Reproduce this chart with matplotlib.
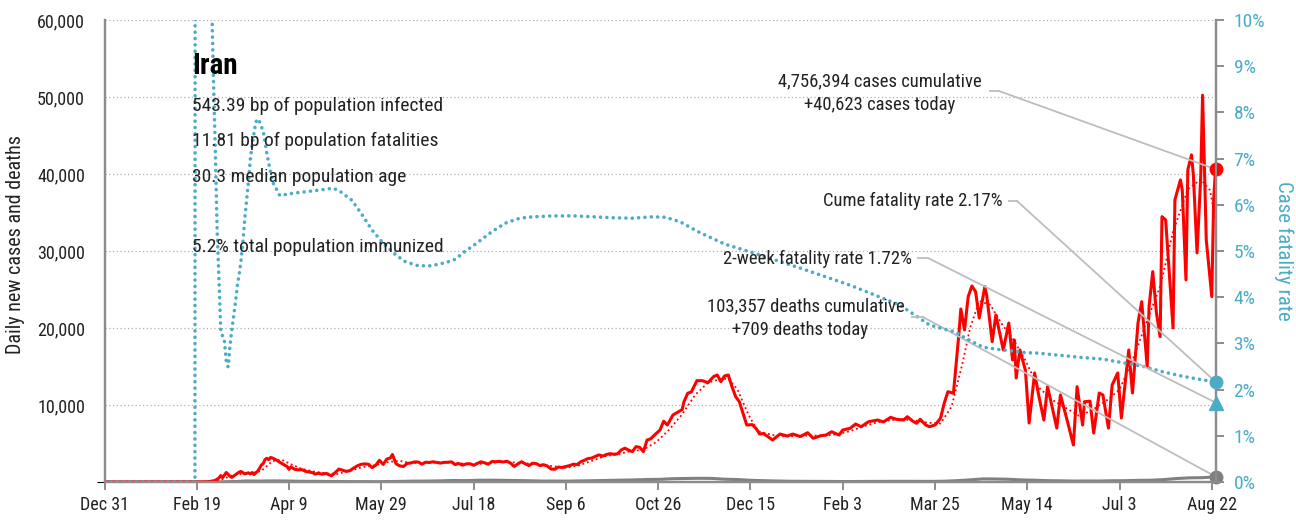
import matplotlib
matplotlib.use("Agg")
import matplotlib.pyplot as plt
import numpy as np
import pandas as pd
from matplotlib.lines import Line2D

plt.rcParams["font.family"] = ["Roboto Condensed", "Liberation Sans Narrow", "DejaVu Sans"]
plt.rcParams["font.stretch"] = "condensed"

RED = "#ff0000"
TEAL = "#4bacc6"
GREY = "#808080"
LEADER = "#bdbdbd"
INK = "#222222"

# daily new cases
case_dates = [
    "2019-12-31", "2020-02-18", "2020-02-19", "2020-02-22", "2020-02-25", "2020-02-27",
    "2020-02-29", "2020-03-02", "2020-03-03", "2020-03-04", "2020-03-06", "2020-03-08",
    "2020-03-09", "2020-03-11", "2020-03-13", "2020-03-14", "2020-03-16", "2020-03-18",
    "2020-03-19", "2020-03-20", "2020-03-21", "2020-03-23", "2020-03-24", "2020-03-25",
    "2020-03-26", "2020-03-27", "2020-03-28", "2020-03-29", "2020-03-30", "2020-03-31",
    "2020-04-02", "2020-04-04", "2020-04-06", "2020-04-08", "2020-04-09", "2020-04-10",
    "2020-04-12", "2020-04-14", "2020-04-16", "2020-04-18", "2020-04-20", "2020-04-22",
    "2020-04-23", "2020-04-25", "2020-04-27", "2020-04-29", "2020-05-02", "2020-05-04",
    "2020-05-06", "2020-05-08", "2020-05-10", "2020-05-12", "2020-05-14", "2020-05-16",
    "2020-05-18", "2020-05-20", "2020-05-22", "2020-05-24", "2020-05-26", "2020-05-28",
    "2020-05-30", "2020-06-01", "2020-06-03", "2020-06-04", "2020-06-06", "2020-06-08",
    "2020-06-10", "2020-06-12", "2020-06-14", "2020-06-16", "2020-06-18", "2020-06-20",
    "2020-06-22", "2020-06-24", "2020-06-26", "2020-06-28", "2020-06-30", "2020-07-02",
    "2020-07-04", "2020-07-06", "2020-07-08", "2020-07-10", "2020-07-12", "2020-07-14",
    "2020-07-16", "2020-07-18", "2020-07-20", "2020-07-22", "2020-07-24", "2020-07-26",
    "2020-07-28", "2020-07-30", "2020-08-01", "2020-08-03", "2020-08-05", "2020-08-07",
    "2020-08-09", "2020-08-11", "2020-08-13", "2020-08-15", "2020-08-17", "2020-08-19",
    "2020-08-21", "2020-08-23", "2020-08-25", "2020-08-27", "2020-08-29", "2020-08-31",
    "2020-09-02", "2020-09-04", "2020-09-06", "2020-09-08", "2020-09-10", "2020-09-12",
    "2020-09-14", "2020-09-16", "2020-09-18", "2020-09-20", "2020-09-22", "2020-09-24",
    "2020-09-26", "2020-09-28", "2020-09-30", "2020-10-02", "2020-10-04", "2020-10-06",
    "2020-10-08", "2020-10-10", "2020-10-12", "2020-10-14", "2020-10-16", "2020-10-18",
    "2020-10-20", "2020-10-22", "2020-10-24", "2020-10-27", "2020-10-29", "2020-10-31",
    "2020-11-03", "2020-11-06", "2020-11-08", "2020-11-09", "2020-11-11", "2020-11-13",
    "2020-11-16", "2020-11-19", "2020-11-22", "2020-11-25", "2020-11-27", "2020-11-29",
    "2020-12-01", "2020-12-03", "2020-12-05", "2020-12-07", "2020-12-09", "2020-12-11",
    "2020-12-13", "2020-12-16", "2020-12-18", "2020-12-20", "2020-12-22", "2020-12-24",
    "2020-12-27", "2020-12-31", "2021-01-04", "2021-01-07", "2021-01-11", "2021-01-15",
    "2021-01-18", "2021-01-22", "2021-01-25", "2021-01-28", "2021-02-01", "2021-02-03",
    "2021-02-07", "2021-02-10", "2021-02-13", "2021-02-17", "2021-02-22", "2021-02-25",
    "2021-03-01", "2021-03-04", "2021-03-08", "2021-03-10", "2021-03-13", "2021-03-15",
    "2021-03-17", "2021-03-20", "2021-03-22", "2021-03-25", "2021-03-28", "2021-03-30",
    "2021-04-01", "2021-04-04", "2021-04-07", "2021-04-08", "2021-04-10", "2021-04-12",
    "2021-04-14", "2021-04-16", "2021-04-18", "2021-04-21", "2021-04-22", "2021-04-25",
    "2021-04-27", "2021-05-01", "2021-05-04", "2021-05-06", "2021-05-07", "2021-05-08",
    "2021-05-10", "2021-05-13", "2021-05-15", "2021-05-18", "2021-05-20", "2021-05-23",
    "2021-05-25", "2021-05-27", "2021-05-30", "2021-06-01", "2021-06-03", "2021-06-05",
    "2021-06-08", "2021-06-10", "2021-06-13", "2021-06-14", "2021-06-17", "2021-06-19",
    "2021-06-22", "2021-06-24", "2021-06-27", "2021-06-29", "2021-07-02", "2021-07-04",
    "2021-07-08", "2021-07-10", "2021-07-13", "2021-07-15", "2021-07-18", "2021-07-19",
    "2021-07-21", "2021-07-23", "2021-07-25", "2021-07-26", "2021-07-28", "2021-08-01",
    "2021-08-02", "2021-08-05", "2021-08-06", "2021-08-08", "2021-08-09", "2021-08-11",
    "2021-08-12", "2021-08-14", "2021-08-16", "2021-08-17", "2021-08-19", "2021-08-22",
    "2021-08-23", "2021-08-24",
]
new_cases = [
    0, 0, 2, 10, 34, 106,
    205, 523, 835, 586, 1234, 743,
    595, 958, 1289, 1365, 1053, 1192,
    1046, 1237, 966, 1411, 1762, 2206,
    2389, 2926, 3076, 2901, 3186, 3110,
    2875, 2560, 2274, 1997, 1634, 1972,
    1657, 1574, 1606, 1374, 1294, 1194,
    1030, 1134, 1006, 1112, 802, 1223,
    1680, 1529, 1383, 1481, 1808, 2102,
    2294, 2346, 2311, 1869, 2180, 2819,
    2282, 2979, 3134, 3574, 2364, 2095,
    2011, 2410, 2472, 2612, 2596, 2322,
    2573, 2531, 2628, 2536, 2457, 2549,
    2560, 2613, 2262, 2397, 2186, 2349,
    2379, 2166, 2414, 2625, 2489, 2316,
    2667, 2636, 2685, 2598, 2697, 2450,
    2020, 2345, 2634, 2358, 2133, 2444,
    2386, 2125, 2243, 2060, 1682, 1656,
    1943, 1888, 2016, 2125, 2313, 2262,
    2615, 2818, 3049, 3097, 3341, 3521,
    3362, 3570, 3677, 3600, 3653, 4160,
    4392, 4142, 3940, 4590, 4500, 3940,
    5450, 5616, 6100, 6750, 7900, 7400,
    8700, 9130, 9400, 10430, 11520, 11700,
    13160, 13160, 12900, 13680, 13900, 13030,
    13770, 13900, 12380, 11080, 10430, 8920,
    7400, 7450, 6970, 6230, 6300, 5970,
    5450, 6230, 5970, 6230, 5900, 6400,
    5680, 6000, 6100, 6530, 6100, 6750,
    6970, 7530, 7180, 7830, 8050, 7800,
    8400, 8150, 8050, 8480, 7900, 7620,
    8140, 7400, 7180, 7400, 8270, 10220,
    11730, 11520, 19350, 22470, 19750, 24070,
    25460, 24720, 21300, 25370, 24290, 18230,
    21690, 17150, 20650, 15850, 18450, 13500,
    17150, 14500, 7660, 14160, 11500, 8050,
    12380, 10260, 7000, 11300, 9500, 7660,
    4800, 12380, 7400, 10430, 10500, 6360,
    11560, 11300, 7000, 12600, 14160, 8310,
    17150, 11560, 20650, 23420, 14980, 22770,
    27320, 21950, 18870, 34460, 34030, 20000,
    36630, 39230, 37900, 26240, 40530, 42480,
    39900, 29750, 39660, 50228, 31430, 24070,
    36630, 40623,
]

# 7-day average of new cases
avg_dates = [
    "2019-12-31", "2020-02-20", "2020-02-27", "2020-03-03", "2020-03-08", "2020-03-14",
    "2020-03-20", "2020-03-25", "2020-03-31", "2020-04-05", "2020-04-10", "2020-04-16",
    "2020-04-22", "2020-04-29", "2020-05-05", "2020-05-12", "2020-05-19", "2020-05-26",
    "2020-06-02", "2020-06-08", "2020-06-14", "2020-06-21", "2020-06-28", "2020-07-05",
    "2020-07-12", "2020-07-19", "2020-07-26", "2020-08-02", "2020-08-09", "2020-08-16",
    "2020-08-23", "2020-08-30", "2020-09-06", "2020-09-13", "2020-09-20", "2020-09-27",
    "2020-10-04", "2020-10-11", "2020-10-18", "2020-10-25", "2020-11-01", "2020-11-08",
    "2020-11-15", "2020-11-22", "2020-11-29", "2020-12-03", "2020-12-08", "2020-12-14",
    "2020-12-19", "2020-12-27", "2021-01-03", "2021-01-10", "2021-01-17", "2021-01-24",
    "2021-01-31", "2021-02-07", "2021-02-14", "2021-02-21", "2021-02-28", "2021-03-07",
    "2021-03-14", "2021-03-21", "2021-03-28", "2021-04-03", "2021-04-09", "2021-04-13",
    "2021-04-18", "2021-04-24", "2021-04-30", "2021-05-07", "2021-05-13", "2021-05-20",
    "2021-05-28", "2021-06-04", "2021-06-11", "2021-06-18", "2021-06-26", "2021-07-03",
    "2021-07-10", "2021-07-18", "2021-07-25", "2021-08-01", "2021-08-09", "2021-08-16",
    "2021-08-21", "2021-08-24",
]
avg_cases = [
    0, 0, 40, 300, 750, 1050,
    1150, 1450, 2700, 2900, 2300, 1700,
    1380, 1120, 1050, 1450, 1950, 2200,
    2600, 2750, 2450, 2500, 2550, 2550,
    2400, 2300, 2450, 2600, 2550, 2400,
    2300, 2050, 1850, 2150, 2750, 3350,
    3600, 4000, 4200, 5200, 6800, 8800,
    11300, 12900, 13400, 13400, 12000, 8700,
    6600, 6100, 5900, 6000, 6050, 6000,
    6200, 6600, 7200, 7700, 8000, 8150,
    8000, 7700, 7600, 9800, 15500, 20000,
    23500, 23000, 20600, 18300, 15800, 12300,
    10600, 9600, 8600, 9300, 10600, 12000,
    15800, 21000, 25400, 32500, 38000, 39300,
    37900, 34000,
]

# daily deaths
death_dates = [
    "2019-12-31", "2020-02-18", "2020-02-19", "2020-03-01", "2020-03-10", "2020-03-17",
    "2020-03-24", "2020-03-31", "2020-04-07", "2020-04-14", "2020-04-21", "2020-04-28",
    "2020-05-05", "2020-05-12", "2020-05-19", "2020-05-26", "2020-06-02", "2020-06-09",
    "2020-06-16", "2020-06-23", "2020-06-30", "2020-07-07", "2020-07-14", "2020-07-21",
    "2020-07-28", "2020-08-04", "2020-08-11", "2020-08-18", "2020-08-25", "2020-09-01",
    "2020-09-08", "2020-09-15", "2020-09-22", "2020-09-29", "2020-10-06", "2020-10-13",
    "2020-10-20", "2020-10-27", "2020-11-03", "2020-11-10", "2020-11-17", "2020-11-24",
    "2020-12-01", "2020-12-08", "2020-12-15", "2020-12-22", "2020-12-29", "2021-01-05",
    "2021-01-12", "2021-01-19", "2021-01-26", "2021-02-02", "2021-02-09", "2021-02-16",
    "2021-02-23", "2021-03-02", "2021-03-09", "2021-03-16", "2021-03-23", "2021-03-30",
    "2021-04-06", "2021-04-13", "2021-04-20", "2021-04-27", "2021-05-04", "2021-05-11",
    "2021-05-18", "2021-05-25", "2021-06-01", "2021-06-08", "2021-06-15", "2021-06-22",
    "2021-06-29", "2021-07-06", "2021-07-13", "2021-07-20", "2021-07-27", "2021-08-03",
    "2021-08-10", "2021-08-17", "2021-08-20", "2021-08-24",
]
new_deaths = [
    0, 0, 2, 12, 54, 135,
    122, 141, 133, 98, 88, 80,
    63, 48, 51, 34, 64, 81,
    115, 121, 147, 200, 179, 229,
    235, 212, 189, 159, 119, 121,
    114, 144, 175, 207, 239, 272,
    322, 346, 431, 457, 482, 469,
    362, 321, 221, 175, 131, 98,
    89, 80, 75, 62, 64, 76,
    79, 87, 88, 84, 80, 100,
    174, 278, 405, 389, 356, 270,
    234, 174, 155, 120, 134, 127,
    160, 170, 213, 229, 315, 453,
    542, 564, 610, 709,
]

# cumulative case fatality rate, percent
cfr_dates = [
    "2019-12-31", "2020-02-18", "2020-02-19", "2020-02-20", "2020-02-21", "2020-02-23",
    "2020-02-25", "2020-02-26", "2020-02-27", "2020-02-28", "2020-02-29", "2020-03-01",
    "2020-03-02", "2020-03-03", "2020-03-04", "2020-03-05", "2020-03-06", "2020-03-07",
    "2020-03-08", "2020-03-09", "2020-03-10", "2020-03-11", "2020-03-12", "2020-03-13",
    "2020-03-14", "2020-03-15", "2020-03-16", "2020-03-17", "2020-03-18", "2020-03-19",
    "2020-03-20", "2020-03-21", "2020-03-22", "2020-03-23", "2020-03-24", "2020-03-25",
    "2020-03-26", "2020-03-27", "2020-03-28", "2020-03-29", "2020-03-31", "2020-04-04",
    "2020-04-11", "2020-04-26", "2020-05-03", "2020-05-07", "2020-05-13", "2020-05-18",
    "2020-05-24", "2020-05-30", "2020-06-06", "2020-06-11", "2020-06-18", "2020-06-25",
    "2020-07-03", "2020-07-08", "2020-07-13", "2020-07-20", "2020-07-28", "2020-08-04",
    "2020-08-12", "2020-08-19", "2020-08-30", "2020-09-10", "2020-09-21", "2020-10-01",
    "2020-10-12", "2020-10-23", "2020-10-30", "2020-11-07", "2020-11-17", "2020-12-01",
    "2020-12-15", "2021-01-11", "2021-02-07", "2021-03-06", "2021-03-22", "2021-03-28",
    "2021-04-05", "2021-04-09", "2021-04-14", "2021-04-20", "2021-04-28", "2021-05-05",
    "2021-05-13", "2021-05-20", "2021-05-27", "2021-06-04", "2021-06-11", "2021-06-24",
    "2021-07-05", "2021-07-16", "2021-07-26", "2021-08-06", "2021-08-17", "2021-08-24",
]
cfr_pct = [
    0, 0, 100, 40, 22, 18.6,
    16.8, 13.7, 10.6, 8.76, 7.25, 5.5,
    4.4, 3.3, 3.15, 3.05, 2.6, 2.49,
    2.95, 3.3, 3.6, 3.9, 4.26, 4.5,
    4.8, 5.2, 5.7, 6.1, 6.5, 6.98,
    7.3, 7.55, 7.79, 7.86, 7.8, 7.69,
    7.6, 7.35, 7.1, 6.9, 6.5, 6.2,
    6.25, 6.32, 6.36, 6.28, 6.1, 5.82,
    5.45, 5.17, 4.91, 4.77, 4.68, 4.68,
    4.75, 4.82, 4.98, 5.18, 5.42, 5.6,
    5.71, 5.74, 5.76, 5.76, 5.74, 5.72,
    5.71, 5.74, 5.73, 5.63, 5.41, 5.15,
    4.98, 4.63, 4.26, 3.83, 3.4, 3.33,
    3.25, 3.15, 3.04, 2.92, 2.87, 2.84,
    2.8, 2.79, 2.76, 2.73, 2.7, 2.66,
    2.58, 2.5, 2.39, 2.29, 2.21, 2.17,
]

two_week_cfr_pct = 1.72
cume_cases = 4756394
cume_deaths = 103357

tick_labels = ["Dec 31", "Feb 19", "Apr 9", "May 29", "Jul 18", "Sep 6", "Oct 26",
               "Dec 15", "Feb 3", "Mar 25", "May 14", "Jul 3", "Aug 22"]

info_lines = [
    "543.39 bp of population infected",
    "11.81 bp of population fatalities",
    "30.3 median population age",
    "",
    "5.2% total population immunized",
]

case_dates = pd.to_datetime(case_dates)
avg_dates = pd.to_datetime(avg_dates)
death_dates = pd.to_datetime(death_dates)
cfr_dates = pd.to_datetime(cfr_dates)
start, end = case_dates[0], case_dates[-1]

W, H = 1296, 522
fig = plt.figure(figsize=(W / 100, H / 100), dpi=100)
ax = fig.add_axes([104.5 / W, 40 / H, 1111 / W, 462 / H])
ax2 = ax.twinx()

# cases and deaths on the left scale
ax.plot(case_dates, new_cases, color=RED, lw=2.2, solid_joinstyle="round", zorder=3)
ax.plot(avg_dates, avg_cases, color=RED, lw=1.3, linestyle=(0, (1, 1.6)), zorder=3)
ax.plot(death_dates, new_deaths, color=GREY, lw=2.2, zorder=2)

ax.set_xlim(start, end)
ax.set_ylim(0, 60000)
ax.set_yticks(np.arange(0, 60001, 10000))
ax.set_yticklabels([""] + [f"{v:,}" for v in range(10000, 60001, 10000)])
ax.yaxis.grid(True, linestyle=(0, (1, 2)), color="#b0b0b0", lw=0.9)
ax.set_axisbelow(True)

ticks = [start + pd.Timedelta(days=50 * i) for i in range(len(tick_labels))]
ax.set_xticks(ticks)
ax.set_xticklabels(tick_labels)

# fatality rate on the right scale
ax2.plot(cfr_dates, cfr_pct, color=TEAL, lw=2.6, linestyle=(0, (0.01, 1.75)),
         dash_capstyle="round", zorder=4)
ax2.set_ylim(0, 10)
ax2.set_yticks(np.arange(0, 11))
ax2.set_yticklabels([f"{v}%" for v in range(11)])

for a in (ax, ax2):
    a.spines["top"].set_visible(False)
    for side in ("left", "right", "bottom"):
        a.spines[side].set_color("#8c8c8c")
        a.spines[side].set_linewidth(1.6)

ax.tick_params(axis="x", direction="out", length=6, width=1.4, color="#8c8c8c",
               labelsize=13, labelcolor=INK, pad=4)
ax.tick_params(axis="y", length=0, labelsize=13, labelcolor=INK, pad=14)
ax.yaxis.get_major_ticks()[0].tick1line.set_markersize(6)
ax2.tick_params(axis="y", direction="out", length=6, width=1.4, color="#8c8c8c",
                labelsize=14, labelcolor=TEAL, pad=7)

ax.set_ylabel("Daily new cases and deaths", fontsize=14.5, color=INK)
ax.yaxis.set_label_coords(-0.0716, 0.513)
ax2.set_ylabel("Case fatality rate", fontsize=15, color=TEAL, rotation=270)
ax2.yaxis.set_label_coords(1.07, 0.5)

# end-of-series markers
last_cfr = cfr_pct[-1]
ax.plot([end], [new_cases[-1]], "o", color=RED, ms=9, clip_on=False, zorder=6)
ax.plot([end], [new_deaths[-1]], "o", color=GREY, ms=9, clip_on=False, zorder=6)
ax2.plot([end], [last_cfr], "o", color=TEAL, ms=9, clip_on=False, zorder=6)
ax2.plot([end], [two_week_cfr_pct], "^", color=TEAL, ms=10, clip_on=False, zorder=6)


def px(x, y):
    return x / W, 1 - y / H


def leader(x0, x1, y, target, axis):
    fig.add_artist(Line2D([x0 / W, x1 / W], [1 - y / H, 1 - y / H], color=LEADER,
                          lw=1.3, transform=fig.transFigure))
    axis.annotate("", xy=target, xycoords="data", xytext=px(x1, y),
                  textcoords="figure fraction",
                  arrowprops=dict(arrowstyle="-", color=LEADER, lw=1.3,
                                  shrinkA=0, shrinkB=0), zorder=5)


# country block
fig.text(*px(192, 66), "Iran", fontsize=21, fontweight="bold", color="black",
         va="center", ha="left")
for i, line in enumerate(info_lines):
    if line:
        fig.text(*px(192, 106 + 35.3 * i), line, fontsize=14, color=INK,
                 va="center", ha="left")

NOTE = 13.4
fig.text(*px(880, 81), f"{cume_cases:,} cases cumulative", fontsize=NOTE, color=INK,
         ha="center", va="center")
fig.text(*px(880, 105), f"+{new_cases[-1]:,} cases today", fontsize=NOTE, color=INK,
         ha="center", va="center")
leader(990, 999, 91, (end, new_cases[-1]), ax)

fig.text(*px(1003, 201), f"Cume fatality rate {last_cfr:.2f}%", fontsize=NOTE,
         color=INK, ha="right", va="center")
leader(1009, 1017, 201, (end, last_cfr), ax2)

fig.text(*px(912, 259), f"2-week fatality rate {two_week_cfr_pct:.2f}%", fontsize=NOTE,
         color=INK, ha="right", va="center")
leader(918, 928, 258, (end, two_week_cfr_pct), ax2)

fig.text(*px(806, 306), f"{cume_deaths:,} deaths cumulative", fontsize=NOTE, color=INK,
         ha="center", va="center")
fig.text(*px(800, 330), f"+{new_deaths[-1]:,} deaths today", fontsize=NOTE, color=INK,
         ha="center", va="center")
leader(912, 923, 317, (end, new_deaths[-1]), ax)

fig.savefig("out.png", dpi=100)
